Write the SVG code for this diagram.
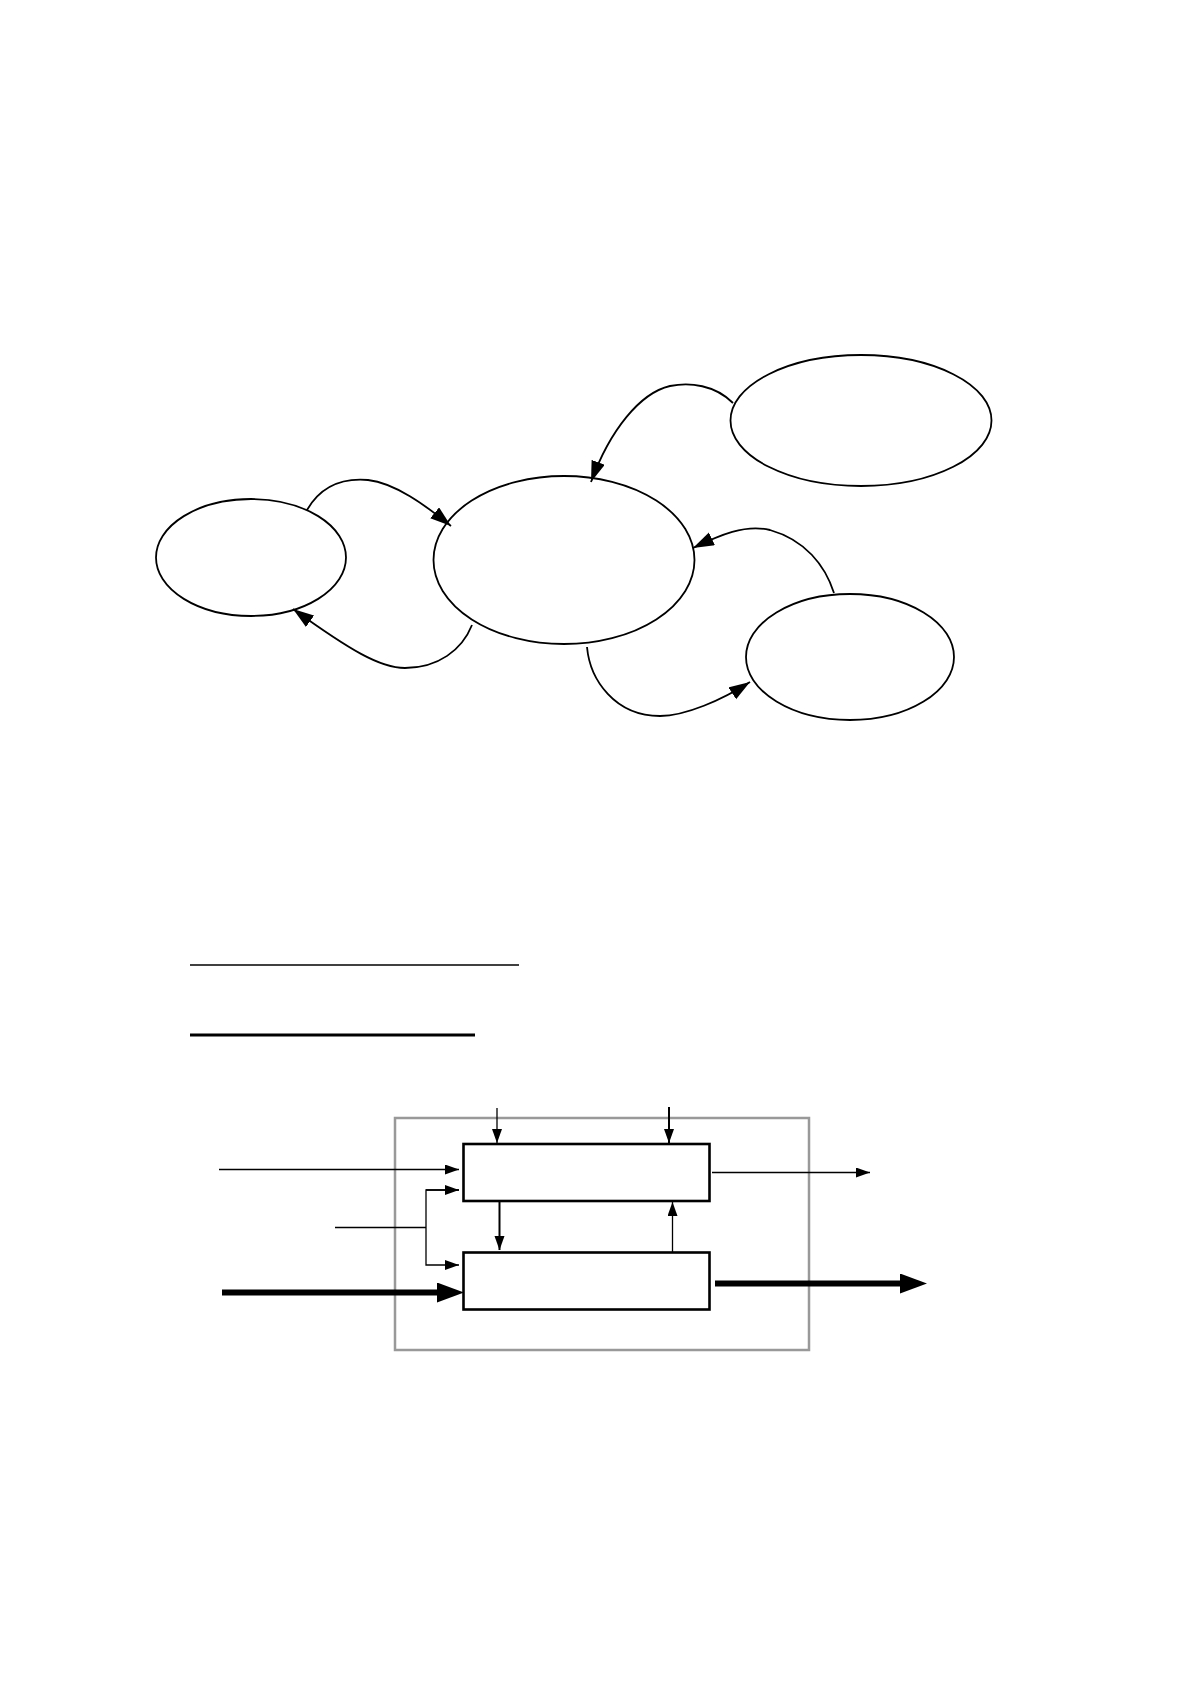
<svg xmlns="http://www.w3.org/2000/svg" width="1191" height="1684" viewBox="0 0 1191 1684">
<style>
.node{fill:#fff;stroke:#000;stroke-width:1.8}
.box{fill:#fff;stroke:#000;stroke-width:2.6}
.frame{fill:none;stroke:#999;stroke-width:2.5}
.curve{fill:none;stroke:#000;stroke-width:1.8}
.thin{fill:none;stroke:#000;stroke-width:1.3}
.med{fill:none;stroke:#000;stroke-width:2}
.thick{fill:none;stroke:#000;stroke-width:6}
</style>
<defs>
<marker id="ah" markerUnits="userSpaceOnUse" markerWidth="22" markerHeight="15" refX="21" refY="7" orient="auto"><path d="M0,0 L21,7 L0,14 z" fill="#000"/></marker>
<marker id="at" markerUnits="userSpaceOnUse" markerWidth="16" markerHeight="11" refX="14" refY="5" orient="auto"><path d="M0,0 L14,5 L0,10 z" fill="#000"/></marker>
<marker id="ak" markerUnits="userSpaceOnUse" markerWidth="28" markerHeight="21" refX="0" refY="10" orient="auto"><path d="M0,0 L27,10 L0,20 z" fill="#000"/></marker>
</defs>
<g id="node-left"><ellipse class="node" cx="251" cy="557.5" rx="95" ry="58.5"/></g>
<g id="node-center"><ellipse class="node" cx="564" cy="560" rx="130.5" ry="84"/></g>
<g id="node-topright"><ellipse class="node" cx="861" cy="420.5" rx="130.5" ry="65.5"/></g>
<g id="node-bottomright"><ellipse class="node" cx="850" cy="657" rx="104" ry="63"/></g>
<g id="connectors">
<path class="curve" marker-end="url(#ah)" d="M307,510 C322,484 345,478 368,480 C395,483 425,505 451,526"/>
<path class="curve" marker-end="url(#ah)" d="M472,625 C462,650 438,668 405,668 C380,668 350,650 293,609"/>
<path class="curve" marker-end="url(#ah)" d="M733,403 C715,385 690,382 670,386 C640,393 610,430 591,482"/>
<path class="curve" marker-end="url(#ah)" d="M834,593 C825,565 805,540 770,530 C745,524 720,535 693,548"/>
<path class="curve" marker-end="url(#ah)" d="M587,647 C590,680 615,716 660,716 C685,716 722,700 750,682"/>
</g>
<g id="legend-lines">
<line x1="190" y1="965" x2="519" y2="965" stroke="#000" stroke-width="1.6"/>
<line x1="190" y1="1035" x2="475" y2="1035" stroke="#000" stroke-width="2.8"/>
</g>
<g id="frame"><rect class="frame" x="395" y="1118" width="414" height="232"/></g>
<g id="box-top"><rect class="box" x="463.5" y="1144" width="246" height="57"/></g>
<g id="box-bottom"><rect class="box" x="463.5" y="1252.5" width="246" height="57"/></g>
<g id="block-connectors">
<line class="thin" x1="497" y1="1108" x2="497" y2="1143" marker-end="url(#at)"/>
<line class="med" x1="669" y1="1107" x2="669" y2="1143" marker-end="url(#at)"/>
<line class="thin" x1="219" y1="1169.5" x2="459" y2="1169.5" marker-end="url(#at)"/>
<polyline class="thin" points="335,1227.5 426,1227.5"/>
<polyline class="thin" points="459,1190 426,1190 426,1265 459,1265" marker-end="url(#at)"/>
<line class="thin" x1="426" y1="1190" x2="459" y2="1190" marker-end="url(#at)"/>
<line class="thick" x1="222" y1="1292.5" x2="437" y2="1292.5" marker-end="url(#ak)"/>
<line class="med" x1="499.5" y1="1202" x2="499.5" y2="1250" marker-end="url(#at)"/>
<line class="thin" x1="672.5" y1="1252" x2="672.5" y2="1202" marker-end="url(#at)"/>
<line class="thin" x1="712" y1="1172.5" x2="870" y2="1172.5" marker-end="url(#at)"/>
<line class="thick" x1="715" y1="1283.5" x2="900" y2="1283.5" marker-end="url(#ak)"/>
</g>
</svg>
